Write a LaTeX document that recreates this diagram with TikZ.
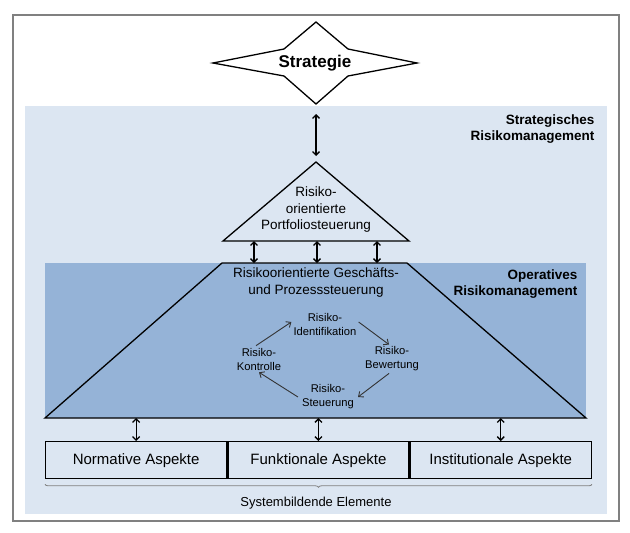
\documentclass[tikz,border=0pt]{standalone}
\usepackage{fontspec}
\setmainfont{Liberation Sans}
\usepackage{tikz}
\usetikzlibrary{arrows.meta, positioning, calc, decorations.pathreplacing}

\definecolor{lightbg}{HTML}{DCE6F2}
\definecolor{darkbg}{HTML}{95B3D7}
\definecolor{framegray}{HTML}{808080}

\begin{document}
\begin{tikzpicture}[
    x=1pt, y=-1pt,
    node distance=0pt,
    link/.style={{Straight Barb[length=3.5pt,width=7pt]}-{Straight Barb[length=3.5pt,width=7pt]}, line width=1.3pt},
    cyc/.style={-{Straight Barb[length=4pt,width=7pt]}, draw=black!80, line width=0.9pt},
    aspect/.style={rectangle, draw, line width=1.3pt, fill=lightbg, minimum width=181pt, minimum height=37pt, font=\fontsize{15}{17}\selectfont},
    cycnode/.style={align=center, inner sep=2pt, font=\fontsize{11.2}{14}\selectfont},
    headtext/.style={anchor=north east, align=right, font=\bfseries\fontsize{13.5}{16}\selectfont}
]
    \useasboundingbox (0,0) rectangle (630,533);

    % Frame and background areas
    \draw[framegray, line width=1.5pt] (13,15) rectangle (619,521);
    \fill[lightbg] (25,106) rectangle (607,514);
    \fill[darkbg] (45,263) rectangle (586,418);
    \node[headtext] (strathead) at (598,111) {Strategisches\\Risikomanagement};
    \node[headtext] (ophead) at (581,266) {Operatives\\Risikomanagement};

    % Strategie
    \coordinate (stratbot) at (316,104);
    \draw[line width=1.3pt, fill=white] (316,22) -- (348,49) -- (417,63) -- (348,76) -- (stratbot) -- (284,76) -- (213,63) -- (284,49) -- cycle;
    \node[font=\bfseries\fontsize{17}{18}\selectfont] (strat) at (315,63) {Strategie};

    % Portfoliosteuerung
    \coordinate (tritop) at (316,162);
    \coordinate (tribase) at (316,241);
    \draw[line width=1.3pt, fill=lightbg] (223,241) -- (tritop) -- (409,241) -- cycle;
    \node[align=center, font=\fontsize{13.5}{16.5}\selectfont] (portf) at (316,210) {Risiko-\\orientierte\\Portfoliosteuerung};
    \draw[link, shorten <=10pt, shorten >=6pt] (stratbot) -- (tritop);

    % Geschaefts- und Prozesssteuerung
    \coordinate (traptop) at (316,263);
    \coordinate (trapbot) at (316,418);
    \draw[line width=1.3pt, fill=darkbg] (45,418) -- (222,263) -- (407,263) -- (586,418) -- cycle;
    \node[align=center, font=\fontsize{13.5}{17}\selectfont] (gps) at (316,283) {Risikoorientierte Geschäfts-\\und Prozesssteuerung};
    \foreach \dx in {-62,1,61}
        \draw[link] ([xshift=\dx pt]tribase) -- ([xshift=\dx pt]traptop);

    % Risiko-Kreislauf
    \node[cycnode] (ident) at (325,324) {Risiko-\\Identifikation};
    \node[cycnode] (bew) at (392,359) {Risiko-\\Bewertung};
    \node[cycnode] (steu) at (328,397) {Risiko-\\Steuerung};
    \node[cycnode] (kontr) at (259,359) {Risiko-\\Kontrolle};
    \draw[cyc] ([xshift=-3pt]kontr.north) -- ([yshift=2pt]ident.west);
    \draw[cyc] ([yshift=2pt]ident.east) -- ([xshift=-3pt]bew.north);
    \draw[cyc] ([xshift=-3pt]bew.south) -- ([xshift=2pt]steu.east);
    \draw[cyc] ([xshift=-2pt]steu.west) -- (kontr.south);

    % Systembildende Elemente
    \node[aspect, anchor=north west] (norm) at (45,441) {Normative Aspekte};
    \node[aspect, right=of norm] (funk) {Funktionale Aspekte};
    \node[aspect, right=of funk] (inst) {Institutionale Aspekte};
    \foreach \b in {norm,funk,inst}
        \draw[link] (\b.north) -- (\b.north |- trapbot);
    \draw[decorate, decoration={brace, mirror, amplitude=3pt}, framegray, line width=0.8pt] ([yshift=-5pt]norm.south west) -- ([yshift=-5pt]inst.south east);
    \node[font=\fontsize{13}{15}\selectfont] (sys) at (316,503) {Systembildende Elemente};
\end{tikzpicture}
\end{document}
